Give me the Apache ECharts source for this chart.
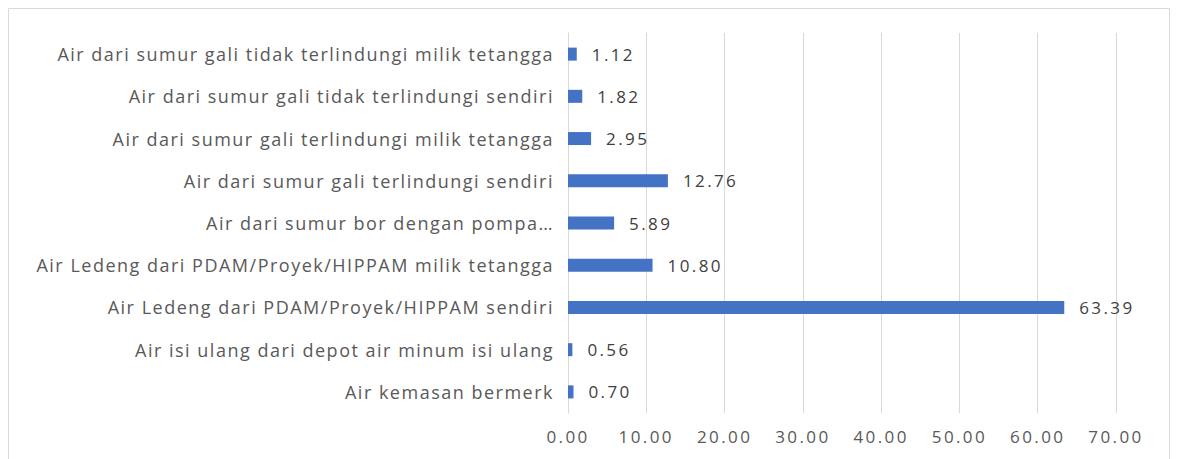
<!DOCTYPE html>
<html>
<head>
<meta charset="utf-8">
<script src="https://cdn.jsdelivr.net/npm/echarts@6/dist/echarts.min.js"></script>
<style>
  html, body { margin: 0; padding: 0; background: #fff; }
  #main { width: 1177px; height: 459px; }
  /* teks di gambar asli agak renggang */
  #main text { letter-spacing: 1.5px; }
  #main text[style*="17px"] { letter-spacing: 2.4px; }
</style>
</head>
<body>
<div id="main"></div>
<script>
  // kategori dari bawah ke atas
  const categories = [
    'Air kemasan bermerk',
    'Air isi ulang dari depot air minum isi ulang',
    'Air Ledeng dari PDAM/Proyek/HIPPAM sendiri',
    'Air Ledeng dari PDAM/Proyek/HIPPAM milik tetangga',
    'Air dari sumur bor dengan pompa…',
    'Air dari sumur gali terlindungi sendiri',
    'Air dari sumur gali terlindungi milik tetangga',
    'Air dari sumur gali tidak terlindungi sendiri',
    'Air dari sumur gali tidak terlindungi milik tetangga',
  ];
  const values = [0.70, 0.56, 63.39, 10.80, 5.89, 12.76, 2.95, 1.82, 1.12];
  const tickLabels = ['0.00', '10.00', '20.00', '30.00', '40.00', '50.00', '60.00', '70.00'];

  const fontFamily = '"Open Sans", Lato, sans-serif';
  const myChart = echarts.init(document.getElementById('main'), null, { renderer: 'svg' });
  myChart.setOption({
    animation: false,
    backgroundColor: '#fff',
    graphic: [{
      type: 'rect',
      z: -1,
      shape: { x: 8.5, y: 8.5, width: 1161, height: 460 },
      style: { fill: 'none', stroke: '#d9d9d9', lineWidth: 1 },
    }],
    grid: {
      left: 568,
      right: 61,
      top: 33,
      bottom: 46,
      containLabel: false,
    },
    xAxis: {
      type: 'value',
      min: 0,
      max: 70,
      interval: 10,
      axisLine: { show: false },
      axisTick: { show: false },
      splitLine: { show: true, lineStyle: { color: '#d9d9d9', width: 1 } },
      axisLabel: {
        margin: 15,
        color: '#595959',
        fontSize: 17,
        fontFamily,
        formatter(v) {
          return tickLabels[Math.round(v / 10)];
        },
      },
    },
    yAxis: {
      type: 'category',
      data: categories,
      axisLine: { show: true, lineStyle: { color: '#d9d9d9' } },
      axisTick: { show: false },
      axisLabel: {
        margin: 14,
        color: '#595959',
        fontSize: 18,
        fontFamily,
      },
    },
    series: [{
      type: 'bar',
      data: values,
      barWidth: 13,
      itemStyle: { color: '#4472c4' },
      label: {
        show: true,
        position: 'right',
        distance: 15,
        color: '#404040',
        fontSize: 17,
        fontFamily,
        formatter(p) {
          return p.value.toFixed(2);
        },
      },
    }],
  });
</script>
</body>
</html>
